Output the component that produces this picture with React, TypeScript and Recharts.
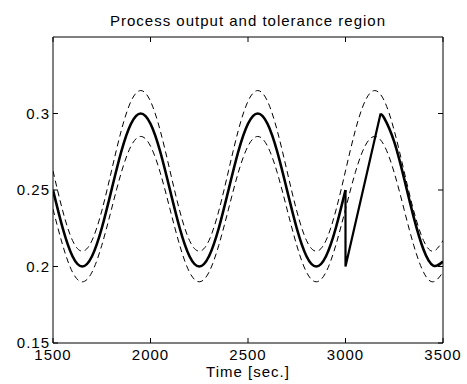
import React from "react";
import { LineChart, Line, XAxis, YAxis } from "recharts";

/* ── Data ───────────────────────────────────────────────────── */

const times = [
  1500, 1550, 1600, 1650, 1700, 1750, 1800, 1850, 1900, 1950, 2000, 2050,
  2100, 2150, 2200, 2250, 2300, 2350, 2400, 2450, 2500, 2550, 2600, 2650,
  2700, 2750, 2800, 2850, 2900, 2950, 3000, 3050, 3100, 3150, 3200, 3250,
  3300, 3350, 3400, 3450, 3500,
];

// tolerance band, upper edge (dashed)
const upperVals = [
  0.2625, 0.2363, 0.217, 0.21, 0.217, 0.2363, 0.2625, 0.2888, 0.308, 0.315, 0.308, 0.2888,
  0.2625, 0.2363, 0.217, 0.21, 0.217, 0.2363, 0.2625, 0.2888, 0.308, 0.315, 0.308, 0.2888,
  0.2625, 0.2363, 0.217, 0.21, 0.217, 0.2363, 0.2625, 0.2888, 0.308, 0.315, 0.308, 0.2888,
  0.2625, 0.2363, 0.217, 0.21, 0.217,
];

// tolerance band, lower edge (dashed)
const lowerVals = [
  0.2375, 0.2138, 0.1963, 0.19, 0.1963, 0.2138, 0.2375, 0.2613, 0.2787, 0.285, 0.2787, 0.2613,
  0.2375, 0.2138, 0.1963, 0.19, 0.1963, 0.2138, 0.2375, 0.2613, 0.2787, 0.285, 0.2787, 0.2613,
  0.2375, 0.2138, 0.1963, 0.19, 0.1963, 0.2138, 0.2375, 0.2613, 0.2787, 0.285, 0.2787, 0.2613,
  0.2375, 0.2138, 0.1963, 0.19, 0.1963,
];

// process output, 1500 .. 3000 s
const outTimesA = times.slice(0, 31);
const outValsA = [
  0.25, 0.225, 0.2067, 0.2, 0.2067, 0.225, 0.25, 0.275, 0.2933, 0.3, 0.2933, 0.275,
  0.25, 0.225, 0.2067, 0.2, 0.2067, 0.225, 0.25, 0.275, 0.2933, 0.3, 0.2933, 0.275,
  0.25, 0.225, 0.2067, 0.2, 0.2067, 0.225, 0.25,
];

// process output, disturbance at 3000 s and ramp back
const outTimesB = [3000, 3000, 3180];
const outValsB = [0.25, 0.2, 0.3];

// process output, after recovery
const outTimesC = [3180, 3200, 3250, 3300, 3350, 3400, 3450, 3500];
const outValsC = [0.2994, 0.2967, 0.2815, 0.2578, 0.2321, 0.2111, 0.2006, 0.2033];

const xTicks = [1500, 2000, 2500, 3000, 3500];
const yTicks = [0.15, 0.2, 0.25, 0.3];

/* ── Helpers ────────────────────────────────────────────────── */

const zip = (ts: number[], vs: number[]) => ts.map((t, i) => ({ t, v: vs[i] }));

const FONT = "'Liberation Sans', Arial, sans-serif";
const tickStyle = { fill: "#000", fontSize: 15, fontFamily: FONT, letterSpacing: 1 };
const axisLine = { stroke: "#000", strokeWidth: 1 };
const blank = () => "";

/* ── Component ──────────────────────────────────────────────── */

export default function App() {
  const upper = zip(times, upperVals);
  const lower = zip(times, lowerVals);
  const outA = zip(outTimesA, outValsA);
  const outB = zip(outTimesB, outValsB);
  const outC = zip(outTimesC, outValsC);

  return (
    <div
      style={{
        position: "absolute",
        left: 0,
        top: 0,
        width: 467,
        height: 384,
        background: "#fff",
        fontFamily: FONT,
      }}
    >
      <div
        style={{
          position: "absolute",
          left: 53,
          width: 390,
          top: 12,
          textAlign: "center",
          fontSize: 15,
          letterSpacing: 1,
          lineHeight: "normal",
          color: "#000",
        }}
      >
        Process output and tolerance region
      </div>
      <LineChart
        width={467}
        height={384}
        margin={{ top: 36, right: 23, bottom: 0, left: 0 }}
      >
        <XAxis
          dataKey="t"
          type="number"
          domain={[1500, 3500]}
          ticks={xTicks}
          allowDataOverflow
          height={41}
          tickSize={-5}
          tickMargin={11}
          tick={tickStyle}
          tickLine={axisLine}
          axisLine={axisLine}
          label={{
            value: "Time [sec.]",
            position: "insideBottom",
            offset: 7,
            fill: "#000",
            fontSize: 15,
            letterSpacing: 1,
            fontFamily: FONT,
          }}
        />
        <XAxis
          xAxisId="top"
          orientation="top"
          dataKey="t"
          type="number"
          domain={[1500, 3500]}
          ticks={xTicks}
          allowDataOverflow
          height={1}
          tickSize={-5}
          tickFormatter={blank}
          tickLine={axisLine}
          axisLine={axisLine}
        />
        <YAxis
          type="number"
          domain={[0.15, 0.35]}
          ticks={yTicks}
          allowDataOverflow
          width={53}
          tickSize={-5}
          tickMargin={8}
          tick={tickStyle}
          tickLine={axisLine}
          axisLine={axisLine}
        />
        <YAxis
          yAxisId="right"
          orientation="right"
          type="number"
          domain={[0.15, 0.35]}
          ticks={yTicks}
          allowDataOverflow
          width={1}
          tickSize={-5}
          tickFormatter={blank}
          tickLine={axisLine}
          axisLine={axisLine}
        />

        {/* invisible series so the top / right frame axes get drawn */}
        <Line data={upper} dataKey="v" xAxisId="top" yAxisId="right" stroke="none"
          dot={false} activeDot={false} isAnimationActive={false} />

        {/* tolerance band */}
        <Line data={upper} dataKey="v" type="natural" stroke="#000" strokeWidth={1}
          strokeDasharray="6 4" dot={false} isAnimationActive={false} />
        <Line data={lower} dataKey="v" type="natural" stroke="#000" strokeWidth={1}
          strokeDasharray="6 4" dot={false} isAnimationActive={false} />

        {/* process output */}
        <Line data={outA} dataKey="v" type="natural" stroke="#000" strokeWidth={2.6}
          dot={false} isAnimationActive={false} />
        <Line data={outB} dataKey="v" type="linear" stroke="#000" strokeWidth={2.2}
          dot={false} isAnimationActive={false} />
        <Line data={outC} dataKey="v" type="natural" stroke="#000" strokeWidth={2.6}
          dot={false} isAnimationActive={false} />
      </LineChart>
    </div>
  );
}
